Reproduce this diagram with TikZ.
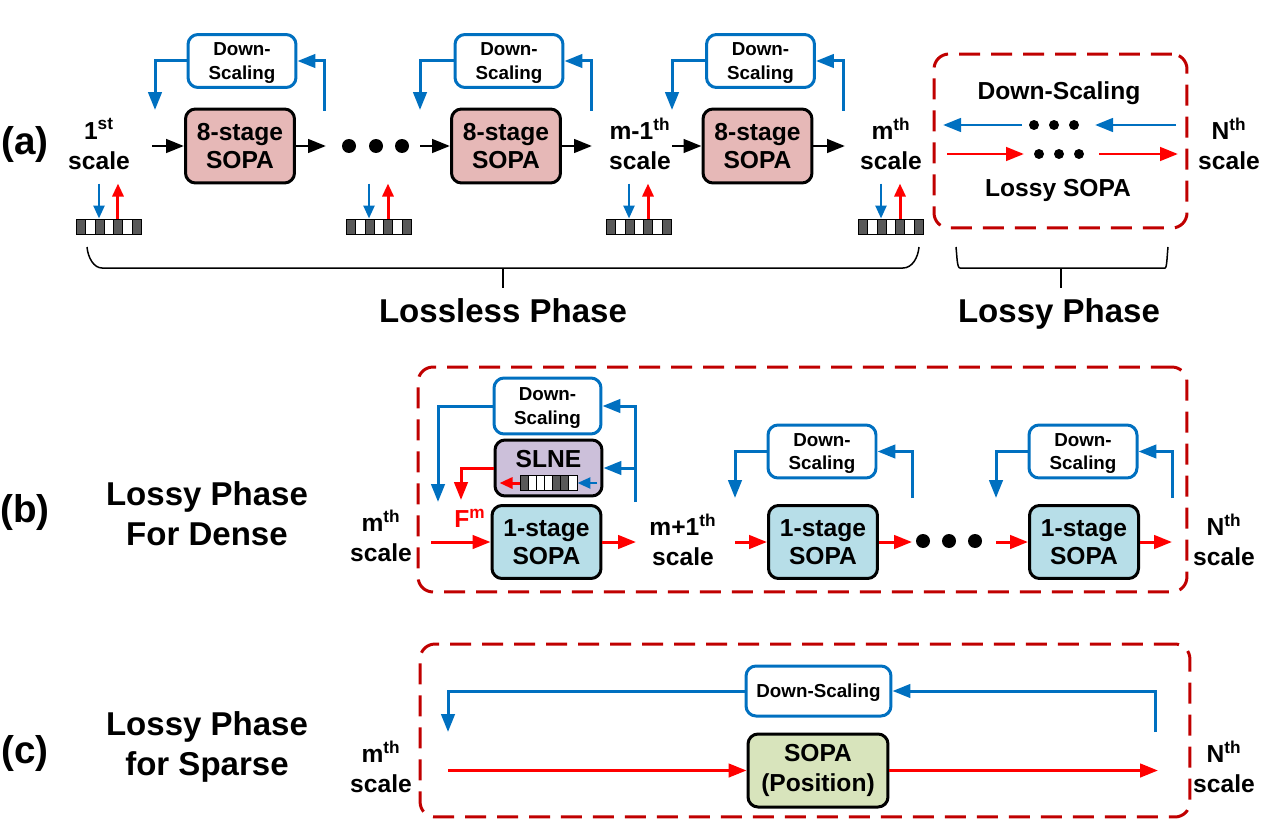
\documentclass[tikz,border=0pt]{standalone}
\usepackage{fontspec}
\setmainfont{Liberation Sans}
\usetikzlibrary{arrows.meta,calc}
\definecolor{dsblue}{HTML}{0070C0}
\definecolor{lossred}{HTML}{C00000}
\definecolor{sopapink}{HTML}{E6B8B7}
\definecolor{sopacyan}{HTML}{B7DEE8}
\definecolor{slnepurple}{HTML}{CCC0DA}
\definecolor{sopagreen}{HTML}{D8E4BC}

\begin{document}
\begin{tikzpicture}[
  x=0.02cm, y=-0.02cm,
  font=\bfseries,
  txt/.style={inner sep=0pt, align=center, font=\bfseries\fontsize{14}{17}\selectfont},
  big/.style={inner sep=0pt, align=center, font=\bfseries\fontsize{18.8}{22.7}\selectfont},
  tag/.style={inner sep=0pt, font=\bfseries\fontsize{22}{26}\selectfont},
  box/.style={rectangle, draw, rounded corners=0.2cm, line width=0.06cm, inner sep=0pt, align=center, font=\bfseries\fontsize{14}{16}\selectfont},
  sopa/.style={box, minimum width=2.18cm, minimum height=1.46cm},
  ds/.style={box, draw=dsblue, fill=white, minimum width=2.16cm, minimum height=1.06cm, text depth=-0.02cm, font=\bfseries\fontsize{10.7}{13.2}\selectfont},
  phase/.style={rectangle, draw=lossred, dash pattern=on 0.42cm off 0.22cm, rounded corners=0.3cm, line width=0.06cm, inner sep=0pt},
  dot/.style={circle, fill=black, inner sep=0pt, minimum size=0.28cm},
  smalldot/.style={dot, minimum size=0.2cm},
  strip/.style={rectangle, draw, fill=white, line width=0.02cm, inner sep=0pt, minimum width=1.3cm, minimum height=0.32cm,
    path picture={\foreach \i in {#1} \fill[black!65]
      ($(path picture bounding box.south west)!\i/7!(path picture bounding box.south east)$) rectangle
      ($(path picture bounding box.north west)!{(\i+1)/7}!(path picture bounding box.north east)$);
      \foreach \i in {1,...,6} \draw[line width=0.02cm]
      ($(path picture bounding box.south west)!\i/7!(path picture bounding box.south east)$) --
      ($(path picture bounding box.north west)!\i/7!(path picture bounding box.north east)$);}},
  arrow/.style={-{Triangle[length=0.36cm,width=0.27cm]}, line width=0.06cm},
  blackarrow/.style={arrow, black},
  bluearrow/.style={arrow, dsblue},
  redarrow/.style={arrow, red},
  bluethin/.style={-{Triangle[length=0.26cm,width=0.22cm]}, line width=0.05cm, dsblue},
  redthin/.style={-{Triangle[length=0.26cm,width=0.22cm]}, line width=0.06cm, red},
  bracket/.style={line width=0.03cm}
]
  \useasboundingbox (0,0) rectangle (1278,838);

  % Panel (a): lossless scales
  \node[tag] (taga) at (25,145) {(a)};
  \node[txt] (scale1) at (99,144) {1\textsuperscript{st}\\scale};
  \node[txt] (scalem1) at (640,144) {m-1\textsuperscript{th}\\scale};
  \node[txt] (scalem) at (891,144) {m\textsuperscript{th}\\scale};
  \node[sopa, fill=sopapink, minimum height=1.48cm] (sopa1) at (240,146) {8-stage\\SOPA};
  \node[sopa, fill=sopapink, minimum height=1.48cm] (sopa2) at (506,146) {8-stage\\SOPA};
  \node[sopa, fill=sopapink, minimum height=1.48cm] (sopa3) at (757.5,146) {8-stage\\SOPA};
  \node[ds] (ds1) at (242,61) {Down-\\Scaling};
  \node[ds] (ds2) at (509,61) {Down-\\Scaling};
  \node[ds] (ds3) at (760.5,61) {Down-\\Scaling};
  \node[dot] (dota1) at (349,146) {};
  \node[dot] (dota2) at (376,146) {};
  \node[dot] (dota3) at (402,146) {};

  % Panel (a): down-scaling loops, free ends are named
  \coordinate (in1) at (155,110);
  \coordinate (out1) at (324,111);
  \coordinate (in2) at (420,110);
  \coordinate (out2) at (591,111);
  \coordinate (in3) at (672,110);
  \coordinate (out3) at (843,111);
  \draw[bluearrow] (ds1.west) -| (in1);
  \draw[bluearrow] (out1) |- (ds1.east);
  \draw[bluearrow] (ds2.west) -| (in2);
  \draw[bluearrow] (out2) |- (ds2.east);
  \draw[bluearrow] (ds3.west) -| (in3);
  \draw[bluearrow] (out3) |- (ds3.east);

  % Panel (a): black arrows along the row
  \coordinate (from1) at (152,146);
  \coordinate (to1) at (326,146);
  \coordinate (from2) at (420,146);
  \coordinate (to2) at (592,146);
  \coordinate (from3) at (672,146);
  \coordinate (to3) at (845,146);
  \draw[blackarrow] (from1) -- (sopa1.west);
  \draw[blackarrow] (sopa1.east) -- (to1);
  \draw[blackarrow] (from2) -- (sopa2.west);
  \draw[blackarrow] (sopa2.east) -- (to2);
  \draw[blackarrow] (from3) -- (sopa3.west);
  \draw[blackarrow] (sopa3.east) -- (to3);

  % Panel (a): strips under the scales
  \node[strip={0,2,4,6}] (strip1) at (109,227) {};
  \node[strip={0,2,4,6}] (strip2) at (379,227) {};
  \node[strip={0,2,4,6}] (strip3) at (639,227) {};
  \node[strip={0,2,4,6}] (strip4) at (891,227) {};
  \draw[bluethin] ([xshift=-0.2cm,yshift=0.7cm]strip1.north) -- ([xshift=-0.2cm]strip1.north);
  \draw[redthin] ([xshift=0.18cm]strip1.north) -- ([xshift=0.18cm,yshift=0.7cm]strip1.north);
  \draw[bluethin] ([xshift=-0.2cm,yshift=0.7cm]strip2.north) -- ([xshift=-0.2cm]strip2.north);
  \draw[redthin] ([xshift=0.18cm]strip2.north) -- ([xshift=0.18cm,yshift=0.7cm]strip2.north);
  \draw[bluethin] ([xshift=-0.2cm,yshift=0.7cm]strip3.north) -- ([xshift=-0.2cm]strip3.north);
  \draw[redthin] ([xshift=0.18cm]strip3.north) -- ([xshift=0.18cm,yshift=0.7cm]strip3.north);
  \draw[bluethin] ([xshift=-0.2cm,yshift=0.7cm]strip4.north) -- ([xshift=-0.2cm]strip4.north);
  \draw[redthin] ([xshift=0.18cm]strip4.north) -- ([xshift=0.18cm,yshift=0.7cm]strip4.north);

  % Panel (a): lossy box on the right
  \node[phase, minimum width=5.06cm, minimum height=3.48cm] (lossya) at (1060.5,141) {};
  \node[txt] (dslabel) at (1059,93) {Down-Scaling};
  \node[txt] (lossylabel) at (1058,190) {Lossy SOPA};
  \node[txt] (scalena) at (1229,144) {N\textsuperscript{th}\\scale};
  \node[smalldot] (dotb1) at (1034,125) {};
  \node[smalldot] (dotb2) at (1054,125) {};
  \node[smalldot] (dotb3) at (1074,125) {};
  \node[smalldot] (dotr1) at (1039,154) {};
  \node[smalldot] (dotr2) at (1059,154) {};
  \node[smalldot] (dotr3) at (1079,154) {};
  \coordinate (bluestart) at (1176,125);
  \coordinate (blueend) at (1095,125);
  \coordinate (bluestart2) at (1022,125);
  \coordinate (blueend2) at (943,125);
  \coordinate (redstart) at (947,154);
  \coordinate (redend) at (1024,154);
  \coordinate (redstart2) at (1099,154);
  \coordinate (redend2) at (1178,154);
  \draw[bluearrow] (bluestart) -- (blueend);
  \draw[bluearrow] (bluestart2) -- (blueend2);
  \draw[redarrow] (redstart) -- (redend);
  \draw[redarrow] (redstart2) -- (redend2);

  % Panel (a): brackets with phase names
  \node[big] (lossless) at (503,311) {Lossless Phase};
  \node[big] (lossy) at (1059,314) {Lossy Phase};
  \draw[bracket] (87,247) .. controls (88,258) and (94,268) .. (102,268) -- (903,268) .. controls (912,268) and (918,258) .. (919,247);
  \draw[bracket] (956,247) .. controls (957,256) and (957,268) .. (960,268) -- (1165,268) .. controls (1167,268) and (1167,256) .. (1168,247);
  \coordinate (losslessmid) at (503,268);
  \coordinate (lossymid) at (1061,268);
  \draw[bracket] (losslessmid) -- ++(0,20);
  \draw[bracket] (lossymid) -- ++(0,20);

  % Panel (b): dense
  \node[tag] (tagb) at (25,513) {(b)};
  \node[big] (titleb) at (207,513.5) {Lossy Phase\\For Dense};
  \node[phase, minimum width=15.38cm, minimum height=4.5cm] (lossyb) at (802.5,479.5) {};
  \node[txt] (scalemb) at (381,536) {m\textsuperscript{th}\\scale};
  \node[txt] (scalemp) at (683,540) {m+1\textsuperscript{th}\\scale};
  \node[txt] (scalenb) at (1224,540) {N\textsuperscript{th}\\scale};
  \node[ds, minimum width=2.14cm, minimum height=1.12cm] (ds4) at (547.5,406) {Down-\\Scaling};
  \node[box, fill=slnepurple, minimum width=2.14cm, minimum height=1.12cm, text depth=0.36cm] (slne) at (548.5,468) {SLNE};
  \node[strip={0,4,5}, minimum width=1.14cm, minimum height=0.3cm] (slnestrip) at (548.5,483) {};
  \node[sopa, fill=sopacyan] (sopa4) at (546.5,542) {1-stage\\SOPA};
  \node[sopa, fill=sopacyan] (sopa5) at (823,542) {1-stage\\SOPA};
  \node[sopa, fill=sopacyan] (sopa6) at (1084,542) {1-stage\\SOPA};
  \node[ds] (ds5) at (822,451.5) {Down-\\Scaling};
  \node[ds] (ds6) at (1083,451.5) {Down-\\Scaling};
  \node[txt, text=red] (fm) at (470,518) {F\textsuperscript{m}};
  \node[dot] (dotc1) at (923,541) {};
  \node[dot] (dotc2) at (949,541) {};
  \node[dot] (dotc3) at (975,541) {};

  % Panel (b): first loop through SLNE
  \coordinate (in4) at (438,502);
  \coordinate (out4) at (635,502);
  \coordinate (fmtop) at (461,500);
  \draw[bluearrow] (ds4.west) -| (in4);
  \draw[bluearrow] (out4) |- (ds4.east);
  \draw[bluearrow] (out4 |- slne.east) -- (slne.east);
  \draw[redarrow] (slne.west) -| (fmtop);
  \draw[redthin] (slnestrip.west) -- ([xshift=-0.4cm]slnestrip.west);
  \draw[bluethin] ([xshift=0.4cm]slnestrip.east) -- (slnestrip.east);

  % Panel (b): other loops
  \coordinate (in5) at (735,498);
  \coordinate (out5) at (912,498);
  \coordinate (in6) at (996,498);
  \coordinate (out6) at (1172,498);
  \draw[bluearrow] (ds5.west) -| (in5);
  \draw[bluearrow] (out5) |- (ds5.east);
  \draw[bluearrow] (ds6.west) -| (in6);
  \draw[bluearrow] (out6) |- (ds6.east);

  % Panel (b): red arrows along the row
  \coordinate (from4) at (431,542);
  \coordinate (to4) at (636,542);
  \coordinate (from5) at (735,542);
  \coordinate (to5) at (912,542);
  \coordinate (from6) at (996,542);
  \coordinate (to6) at (1172,542);
  \draw[redarrow] (from4) -- (sopa4.west);
  \draw[redarrow] (sopa4.east) -- (to4);
  \draw[redarrow] (from5) -- (sopa5.west);
  \draw[redarrow] (sopa5.east) -- (to5);
  \draw[redarrow] (from6) -- (sopa6.west);
  \draw[redarrow] (sopa6.east) -- (to6);

  % Panel (c): sparse
  \node[tag] (tagc) at (25,753) {(c)};
  \node[big] (titlec) at (207,747) {Lossy Phase\\for Sparse};
  \node[phase, minimum width=15.4cm, minimum height=3.46cm] (lossyc) at (805,730.5) {};
  \node[txt] (scalemc) at (381,767) {m\textsuperscript{th}\\scale};
  \node[txt] (scalenc) at (1224,767) {N\textsuperscript{th}\\scale};
  \node[ds, minimum width=2.9cm, minimum height=1cm] (ds7) at (818.5,691) {Down-Scaling};
  \node[sopa, fill=sopagreen, minimum width=2.8cm, font=\bfseries\fontsize{14}{17}\selectfont] (sopa7) at (818,770.5) {SOPA\\(Position)};
  \coordinate (in7) at (448,732);
  \coordinate (out7) at (1155,732);
  \coordinate (from7) at (448,770.5);
  \coordinate (to7) at (1158,770.5);
  \draw[bluearrow] (ds7.west) -| (in7);
  \draw[bluearrow] (out7) |- (ds7.east);
  \draw[redarrow] (from7) -- (sopa7.west);
  \draw[redarrow] (sopa7.east) -- (to7);
\end{tikzpicture}
\end{document}
